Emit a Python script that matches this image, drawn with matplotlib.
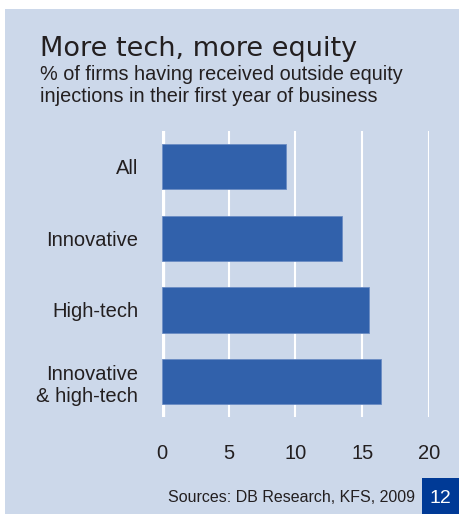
import matplotlib
matplotlib.use("Agg")
import matplotlib.pyplot as plt
from matplotlib.patches import Rectangle

categorias = ["All", "Innovative", "High-tech", "Innovative\n& high-tech"]
valores = [9.3, 13.5, 15.5, 16.4]
ticks_x = [0, 5, 10, 15, 20]

fondo = "#CCD8EA"
azul_barra = "#3161AB"
azul_caja = "#003A96"
texto = "#231F20"

fig = plt.figure(figsize=(4.59, 5.14), dpi=100)
fig.patch.set_facecolor("white")

# panel azul claro detras de todo
fig.patches.append(Rectangle((5 / 459, 0), 1, 1 - 9 / 514, transform=fig.transFigure,
                             facecolor=fondo, edgecolor="none", zorder=-5))

ax = fig.add_axes([0.3523, 0.1881, 0.9346 - 0.3523, 0.7451 - 0.1881])
ax.patch.set_alpha(0)

pos = list(range(len(categorias)))
ax.barh(pos, valores, height=0.63, color=azul_barra, edgecolor="#6A8CC4",
        linewidth=0.6, zorder=3)
ax.set_ylim(3.5, -0.5)
ax.set_xlim(0, 20)

for t in ticks_x[1:]:
    ax.axvline(t, color="white", linewidth=1.5, zorder=1)
ax.axvline(0, color="white", linewidth=3.8, zorder=2)

ax.set_xticks(ticks_x)
ax.set_xticklabels([str(t) for t in ticks_x])
ax.set_yticks(pos)
ax.set_yticklabels(categorias, ha="right", multialignment="right")
ax.tick_params(axis="both", length=0, labelsize=14.5, labelcolor=texto)
ax.tick_params(axis="x", pad=19)
ax.tick_params(axis="y", pad=17)
for lab in ax.get_xticklabels() + ax.get_yticklabels():
    lab.set_family("Liberation Sans")
for s in ax.spines.values():
    s.set_visible(False)

fig.text(40 / 459, 1 - 55.5 / 514, "More tech, more equity", fontsize=19.5,
         family="DejaVu Sans", color=texto, va="baseline")
fig.text(40 / 459, 1 - 80 / 514, "% of firms having received outside equity",
         fontsize=14.3, family="Liberation Sans", color=texto, va="baseline")
fig.text(40 / 459, 1 - 101.5 / 514, "injections in their first year of business",
         fontsize=14.3, family="Liberation Sans", color=texto, va="baseline")

fig.text(415 / 459, 1 - 502 / 514, "Sources: DB Research, KFS, 2009", fontsize=11.5,
         family="Liberation Sans", color=texto, ha="right", va="baseline")

fig.patches.append(Rectangle((422 / 459, 0), 1, 36 / 514, transform=fig.transFigure,
                             facecolor=azul_caja, edgecolor="none", zorder=1))
fig.text(440 / 459, 1 - 503 / 514, "12", fontsize=14, family="Liberation Sans",
         color="white", ha="center", va="baseline")

fig.savefig("out.png", dpi=100, facecolor=fig.get_facecolor())
